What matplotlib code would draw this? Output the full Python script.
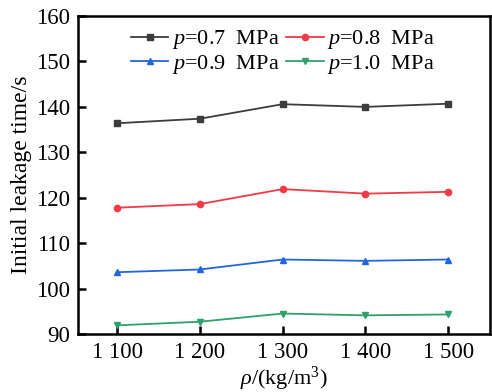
import matplotlib
matplotlib.use('Agg')
import matplotlib.pyplot as plt

plt.rcParams['font.family'] = ['Liberation Serif', 'DejaVu Serif']
plt.rcParams['mathtext.fontset'] = 'custom'
plt.rcParams['mathtext.it'] = 'Liberation Serif:italic'
plt.rcParams['mathtext.rm'] = 'Liberation Serif'

# data
density = [1100, 1200, 1300, 1400, 1500]
density_labels = ['1 100', '1 200', '1 300', '1 400', '1 500']
t_07 = [136.4, 137.4, 140.6, 140.0, 140.7]
t_08 = [117.8, 118.6, 121.9, 120.9, 121.3]
t_09 = [103.6, 104.2, 106.4, 106.1, 106.4]
t_10 = [91.9, 92.7, 94.5, 94.1, 94.3]
series_labels = ['$p$=0.7  MPa', '$p$=0.8  MPa', '$p$=0.9  MPa', '$p$=1.0  MPa']

fig = plt.figure(figsize=(4.92, 3.92), dpi=100)
ax = fig.add_axes([0.159, 0.148, 0.836, 0.811])

h07, = ax.plot(density, t_07, color='#3c3c3c', marker='s', ms=4.5, lw=1.3, label=series_labels[0])
h08, = ax.plot(density, t_08, color='#f03a44', marker='o', ms=4.5, lw=1.3, label=series_labels[1])
h09, = ax.plot(density, t_09, color='#2266dd', marker='^', ms=5, lw=1.3, label=series_labels[2])
h10, = ax.plot(density, t_10, color='#2ea06a', marker='v', ms=5, lw=1.3, label=series_labels[3])

ax.set_xlim(1053, 1550)
ax.set_ylim(90, 160)
ax.set_xticks(density)
ax.set_xticklabels(density_labels)
ax.set_yticks(range(90, 161, 10))
ax.tick_params(direction='in', length=6, width=1.8, labelsize=16.5, pad=6)
for s in ax.spines.values():
    s.set_linewidth(1.8)

ax.set_ylabel('Initial leakage time/s', fontsize=17, labelpad=3)
ax.set_xlabel(r'$\rho$/(kg/m$^3$)', fontsize=16, labelpad=1)

ax.legend([h07, h09, h08, h10],
          [series_labels[0], series_labels[2], series_labels[1], series_labels[3]],
          ncol=2, frameon=False, fontsize=16, loc='upper left',
          bbox_to_anchor=(0.095, 1.003), handlelength=1.7, handletextpad=0.15,
          columnspacing=0.3, labelspacing=0.05, borderaxespad=0.2)

plt.savefig('out.png', dpi=100)
